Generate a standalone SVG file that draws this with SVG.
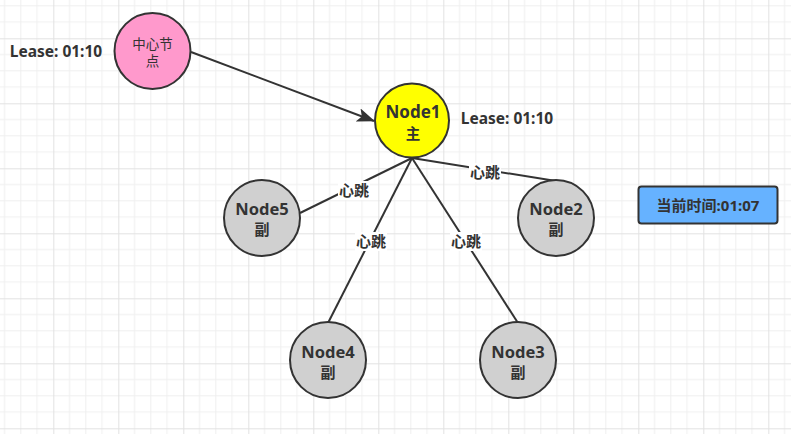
<svg xmlns="http://www.w3.org/2000/svg" width="791" height="434" viewBox="0 0 791 434">
<defs>
<pattern id="grid" patternUnits="userSpaceOnUse" x="53.3" y="38.3" width="65" height="65">
<path d="M16.25 0V65M32.5 0V65M48.75 0V65M0 16.25H65M0 32.5H65M0 48.75H65" stroke="#efefef" stroke-width="1" fill="none"/>
<path d="M0.5 0V65M0 0.5H65" stroke="#e2e2e2" stroke-width="1" fill="none"/>
</pattern>
<marker id="arr" markerWidth="18" markerHeight="14" viewBox="0 0 18 14" refX="17" refY="7" orient="auto" markerUnits="userSpaceOnUse">
<path d="M0 0L18 7L0 14L4 7Z" fill="#333"/>
</marker>
<style>
text{font-family:"Noto Sans","Noto Sans CJK SC",sans-serif;fill:#333;text-anchor:middle}
.b{font-weight:bold}
.n{stroke:#333;stroke-width:2}
.e{stroke:#333;stroke-width:2;fill:none}
.lb{font-size:15px;font-weight:bold}
.nm{font-size:16.5px;font-weight:bold}
.fu{font-size:15px;font-weight:bold}
</style>
</defs>
<rect width="791" height="434" fill="#fff"/>
<rect width="791" height="434" fill="url(#grid)"/>
<g id="connectors">
<path class="e" d="M191 52L374 121" marker-end="url(#arr)"/>
<path class="e" d="M412 158L300 213"/>
<path class="e" d="M412 158L328 323"/>
<path class="e" d="M412 158L518 323"/>
<path class="e" d="M412 158L556 181"/>
<rect x="338" y="181" width="32" height="19" fill="#fff"/>
<text class="lb" x="354" y="196">心跳</text>
<rect x="355" y="232" width="32" height="19" fill="#fff"/>
<text class="lb" x="371" y="247">心跳</text>
<rect x="450" y="232" width="32" height="19" fill="#fff"/>
<text class="lb" x="466" y="247">心跳</text>
<rect x="469" y="163" width="32" height="19" fill="#fff"/>
<text class="lb" x="485" y="178">心跳</text>
</g>
<g id="center">
<circle class="n" cx="152.5" cy="51" r="38" fill="#ff99cc"/>
<text x="152.5" y="49" font-size="13.5">中心节</text>
<text x="152.5" y="66" font-size="13.5">点</text>
</g>
<text class="b" x="56" y="57" font-size="15.5">Lease: 01:10</text>
<g id="node1">
<circle class="n" cx="412" cy="120.5" r="37" fill="#ffff00"/>
<text class="b" x="413" y="118" font-size="17">Node1</text>
<text class="b" x="413" y="139" font-size="14.5">主</text>
</g>
<text class="b" x="507" y="124" font-size="15.5">Lease: 01:10</text>
<g id="node5">
<circle class="n" cx="262" cy="218" r="38" fill="#d0d0d0"/>
<text class="nm" x="262" y="215">Node5</text>
<text class="fu" x="262" y="235">副</text>
</g>
<g id="node2">
<circle class="n" cx="556" cy="218" r="38" fill="#d0d0d0"/>
<text class="nm" x="556" y="215">Node2</text>
<text class="fu" x="556" y="235">副</text>
</g>
<g id="node4">
<circle class="n" cx="328" cy="360" r="38" fill="#d0d0d0"/>
<text class="nm" x="328" y="358">Node4</text>
<text class="fu" x="328" y="378">副</text>
</g>
<g id="node3">
<circle class="n" cx="518" cy="360" r="38" fill="#d0d0d0"/>
<text class="nm" x="518" y="358">Node3</text>
<text class="fu" x="518" y="378">副</text>
</g>
<g id="time">
<rect x="638.5" y="186.5" width="139" height="37" rx="3" fill="#66b2ff" stroke="#333" stroke-width="2"/>
<text class="b" x="708" y="211" font-size="15">当前时间:01:07</text>
</g>
</svg>
